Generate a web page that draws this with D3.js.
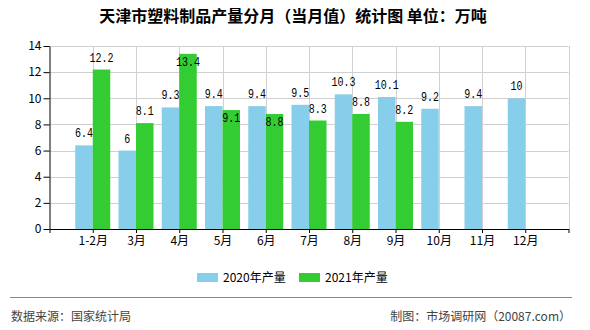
<!DOCTYPE html>
<html>
<head>
<meta charset="utf-8">
<script src="https://cdn.jsdelivr.net/npm/d3@7"></script>
<style>
  body { margin: 0; background: #fff; }
  text { font-family: "Noto Sans CJK SC", "DejaVu Sans", sans-serif; }
</style>
</head>
<body>
<div id="chart"></div>
<script>
// months and monthly output, 10k tonnes
const months = ["1-2月", "3月", "4月", "5月", "6月", "7月", "8月", "9月", "10月", "11月", "12月"];
const output2020 = [6.4, 6, 9.3, 9.4, 9.4, 9.5, 10.3, 10.1, 9.2, 9.4, 10];
const output2021 = [12.2, 8.1, 13.4, 9.1, 8.8, 8.3, 8.8, 8.2, null, null, null];
const seriesNames = ["2020年产量", "2021年产量"];
const yTicks = [0, 2, 4, 6, 8, 10, 12, 14];

const width = 590, height = 330;
const plot = { left: 49.5, right: 568.5, top: 46, bottom: 229 };
const colors = ["#87ceeb", "#33cc33"];
const bw = 17.5;

const svg = d3.select("#chart").append("svg")
  .attr("width", width)
  .attr("height", height);

const x = d3.scaleLinear().domain([0, months.length + 1]).range([plot.left, plot.right]);
const y = d3.scaleLinear().domain([0, 14]).range([plot.bottom, plot.top]);

// title
svg.append("text")
  .attr("x", 293).attr("y", 22)
  .attr("text-anchor", "middle")
  .style("font-size", "16px").style("font-weight", "bold")
  .text("天津市塑料制品产量分月（当月值）统计图 单位：万吨");

// grid
const grid = svg.append("g").attr("stroke", "#d0d0d0").attr("stroke-width", 1);
grid.selectAll(".h").data(yTicks.slice(1)).join("line")
  .attr("x1", plot.left).attr("x2", plot.right)
  .attr("y1", d => Math.round(y(d)) + 0.5).attr("y2", d => Math.round(y(d)) + 0.5);
grid.selectAll(".v").data(d3.range(1, months.length + 2)).join("line")
  .attr("x1", d => Math.round(x(d)) + 0.5).attr("x2", d => Math.round(x(d)) + 0.5)
  .attr("y1", plot.top).attr("y2", plot.bottom);

// bars
const rows = months.map((m, i) => ({ i, a: output2020[i], b: output2021[i] }));
svg.append("g").selectAll("rect").data(rows).join("rect")
  .attr("x", d => x(d.i + 1) - bw).attr("width", bw)
  .attr("y", d => y(d.a)).attr("height", d => y(0) - y(d.a))
  .attr("fill", colors[0]);
svg.append("g").selectAll("rect").data(rows.filter(d => d.b != null)).join("rect")
  .attr("x", d => x(d.i + 1)).attr("width", bw)
  .attr("y", d => y(d.b)).attr("height", d => y(0) - y(d.b))
  .attr("fill", colors[1]);

// value labels
function label(g, cx, base, v) {
  const s = String(v);
  g.append("text")
    .attr("x", cx).attr("y", base)
    .attr("text-anchor", "middle")
    .attr("textLength", s.length * 6)
    .attr("lengthAdjust", "spacingAndGlyphs")
    .style("font-family", "'Liberation Mono', monospace")
    .style("font-size", "12px")
    .text(s);
}
const lbl = svg.append("g");
rows.forEach(d => {
  const c = x(d.i + 1);
  const baseA = y(d.a) - 8;
  label(lbl, c - bw / 2, baseA, d.a);
  if (d.b != null) {
    let baseB = y(d.b) - 8;
    if (baseB - 10 < plot.top || Math.abs(baseB - baseA) < 12) baseB = y(d.b) + 12;
    label(lbl, c + bw / 2, baseB, d.b);
  }
});

// axes
const yAxis = svg.append("g")
  .attr("transform", `translate(${plot.left},0)`)
  .call(d3.axisLeft(y).tickValues(yTicks).tickSize(6).tickPadding(2).tickSizeOuter(0));
const xAxis = svg.append("g")
  .attr("transform", `translate(0,${plot.bottom})`)
  .call(d3.axisBottom(x).tickValues(d3.range(0, months.length + 2))
    .tickFormat(d => months[d - 1] || "").tickSize(4).tickPadding(3).tickSizeOuter(0));
[yAxis, xAxis].forEach(a => {
  a.selectAll("path,line").attr("stroke", "#000");
  a.selectAll("text").attr("fill", "#000").style("font-size", "12px");
});

// legend
const legend = svg.append("g");
const lx = [197, 299];
seriesNames.forEach((n, k) => {
  legend.append("rect").attr("x", lx[k]).attr("y", 273).attr("width", 21).attr("height", 9).attr("fill", colors[k]);
  legend.append("text").attr("x", lx[k] + 26).attr("y", 282).style("font-size", "12px").text(n);
});

// footer
svg.append("line").attr("x1", 10).attr("x2", 572).attr("y1", 297.5).attr("y2", 297.5)
  .attr("stroke", "#888").attr("stroke-width", 1);
svg.append("text").attr("x", 11).attr("y", 321).attr("fill", "#444").style("font-size", "12px")
  .text("数据来源：国家统计局");
svg.append("text").attr("x", 571).attr("y", 321).attr("fill", "#444").attr("text-anchor", "end")
  .style("font-size", "12px").text("制图：市场调研网（20087.com）");
</script>
</body>
</html>
